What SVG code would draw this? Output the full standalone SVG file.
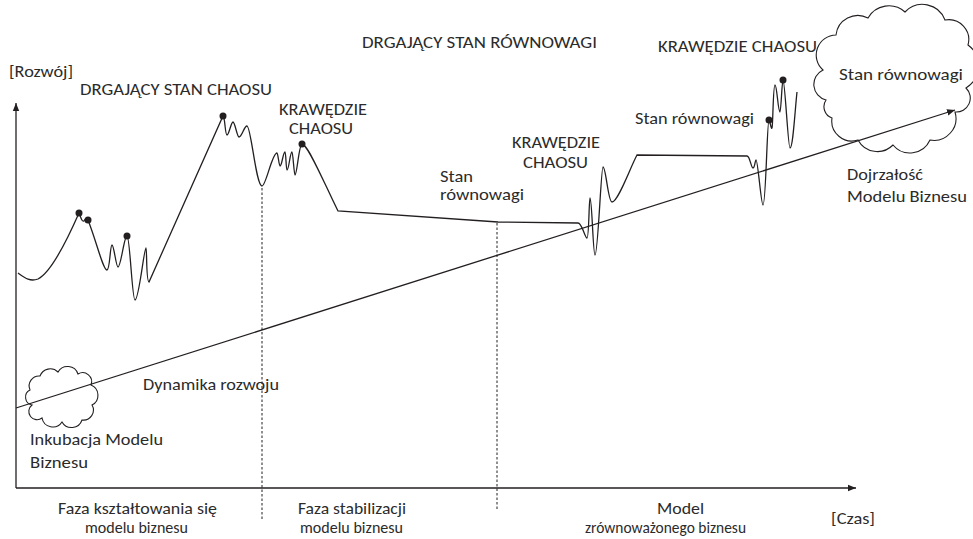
<svg xmlns="http://www.w3.org/2000/svg" width="973" height="539" viewBox="0 0 973 539">
<style>
text{font-family:Carlito,Lato,"Open Sans",sans-serif;font-size:16px;fill:#2b2b2b}
.ln{fill:none;stroke:#231f20;stroke-width:1.3}
.cl{fill:none;stroke:#231f20;stroke-width:1.1}
.ds{fill:none;stroke:#231f20;stroke-width:1;stroke-dasharray:2.5,2}
.dot{fill:#231f20}
</style>
<defs>
<marker id="ah" viewBox="0 0 10 10" refX="10" refY="5" markerWidth="8" markerHeight="8" markerUnits="userSpaceOnUse" orient="auto">
<path d="M0,1 L10,5 L0,9 Z" fill="#231f20"/>
</marker>
</defs>
<g id="axes">
<line class="ln" x1="16" y1="488" x2="16" y2="103" marker-end="url(#ah)"/>
<line class="ln" x1="16" y1="488" x2="856" y2="488" marker-end="url(#ah)"/>
</g>
<g id="connectors">
<line class="ln" x1="16" y1="408" x2="955" y2="110" marker-end="url(#ah)"/>
<line class="ds" x1="262" y1="188" x2="262" y2="520"/>
<line class="ds" x1="497" y1="223" x2="497" y2="510"/>
<path class="ln" d="M18,273 C25,278 30,282 38,279 C52,272 68,238 79,213 C81,218 82,222 84,221 C85,219 86,218 88,220 C96,240 103,270 107,270 C110,270 110,245 112,245 C114,245 116,267 118,267 C121,267 124,236 127,236 C130,236 132,300 135,300 C139,300 144,248 146,248 C147,248 146,282 149,282 L223,116 C225,116 225,135 227,135 C229,135 231,122 233,122 C235,122 237,137 239,137 C242,137 244,126 247,126 C251,126 256,186 262,186 C266,186 272,153 277,153 C278,153 279,166 280,166 C282,166 283,152 285,152 C286,152 286,170 287,170 C289,170 290,152 292,152 C293,152 294,175 295,175 C297,175 299,144 302,144 C308,144 325,185 338,211 L498,222 L578,223 C582,223 585,238 587,238 C589,238 589,198 590,198 C592,198 593,255 595,255 C598,255 601,167 603,167 C606,167 608,202 612,202 C618,202 630,168 637,155 L747,156 C750,156 751,168 753,168 C755,168 755,160 756,160 C758,160 761,205 763,205 C766,205 767,120 769,120 C770,120 771,130 772,128 C773,126 773,85 775,85 C777,85 778,112 780,112 C781,112 782,80 783,80 C785,80 788,148 790,148 C793,148 795,110 797,92"/>
</g>
<g id="dots">
<circle class="dot" cx="79" cy="213" r="3.5"/>
<circle class="dot" cx="88" cy="220" r="3.5"/>
<circle class="dot" cx="127" cy="236" r="3.5"/>
<circle class="dot" cx="223" cy="116" r="3.5"/>
<circle class="dot" cx="302" cy="144" r="3.5"/>
<circle class="dot" cx="769" cy="120" r="3.5"/>
<circle class="dot" cx="783" cy="80" r="3.5"/>
</g>
<g id="cloud-big">
<path class="cl" d="M826,100 A16,16 0 0 1 823,70 A20,20 0 0 1 836,35 A22,22 0 0 1 868,18 A24,24 0 0 1 905,12 A24,24 0 0 1 945,20 A20,20 0 0 1 968,45 A26,26 0 0 1 966,88 A14,14 0 0 1 955,112 A22,22 0 0 1 930,140 A22,22 0 0 1 893,145 A22,22 0 0 1 858,140 A20,20 0 0 1 832,118 A12,12 0 0 1 826,100 Z"/>
<text x="839" y="80" textLength="124" lengthAdjust="spacingAndGlyphs">Stan równowagi</text>
</g>
<g id="cloud-small">
<path class="cl" d="M32,405 A8,8 0 0 1 30,390 A10,10 0 0 1 40,376 A11,11 0 0 1 58,372 A11,11 0 0 1 78,374 A9,9 0 0 1 91,385 A11,11 0 0 1 92,405 A10,10 0 0 1 82,420 A11,11 0 0 1 62,422 A11,11 0 0 1 42,418 A8,8 0 0 1 32,405 Z"/>
</g>
<g id="labels">
<text x="9" y="77" textLength="64" lengthAdjust="spacingAndGlyphs">[Rozwój]</text>
<text x="80" y="95" textLength="192" lengthAdjust="spacingAndGlyphs">DRGAJĄCY STAN CHAOSU</text>
<text x="279" y="115" textLength="88" lengthAdjust="spacingAndGlyphs">KRAWĘDZIE</text>
<text x="289" y="134" textLength="64" lengthAdjust="spacingAndGlyphs">CHAOSU</text>
<text x="362" y="48" textLength="235" lengthAdjust="spacingAndGlyphs">DRGAJĄCY STAN RÓWNOWAGI</text>
<text x="658" y="52" textLength="159" lengthAdjust="spacingAndGlyphs">KRAWĘDZIE CHAOSU</text>
<text x="440" y="182" textLength="33" lengthAdjust="spacingAndGlyphs">Stan</text>
<text x="440" y="200" textLength="84" lengthAdjust="spacingAndGlyphs">równowagi</text>
<text x="512" y="148" textLength="88" lengthAdjust="spacingAndGlyphs">KRAWĘDZIE</text>
<text x="523" y="168" textLength="65" lengthAdjust="spacingAndGlyphs">CHAOSU</text>
<text x="635" y="124" textLength="119" lengthAdjust="spacingAndGlyphs">Stan równowagi</text>
<text x="847" y="180" textLength="76" lengthAdjust="spacingAndGlyphs">Dojrzałość</text>
<text x="847" y="202" textLength="120" lengthAdjust="spacingAndGlyphs">Modelu Biznesu</text>
<text x="143" y="390" textLength="136" lengthAdjust="spacingAndGlyphs">Dynamika rozwoju</text>
<text x="30" y="445" textLength="133" lengthAdjust="spacingAndGlyphs">Inkubacja Modelu</text>
<text x="30" y="468" textLength="58" lengthAdjust="spacingAndGlyphs">Biznesu</text>
<text x="58" y="514" textLength="159" lengthAdjust="spacingAndGlyphs">Faza kształtowania się</text>
<text x="85" y="533" textLength="103" lengthAdjust="spacingAndGlyphs">modelu biznesu</text>
<text x="298" y="514" textLength="108" lengthAdjust="spacingAndGlyphs">Faza stabilizacji</text>
<text x="300" y="533" textLength="103" lengthAdjust="spacingAndGlyphs">modelu biznesu</text>
<text x="657" y="514" textLength="47" lengthAdjust="spacingAndGlyphs">Model</text>
<text x="585" y="533" textLength="161" lengthAdjust="spacingAndGlyphs">zrównoważonego biznesu</text>
<text x="831" y="524" textLength="44" lengthAdjust="spacingAndGlyphs">[Czas]</text>
</g>
</svg>
